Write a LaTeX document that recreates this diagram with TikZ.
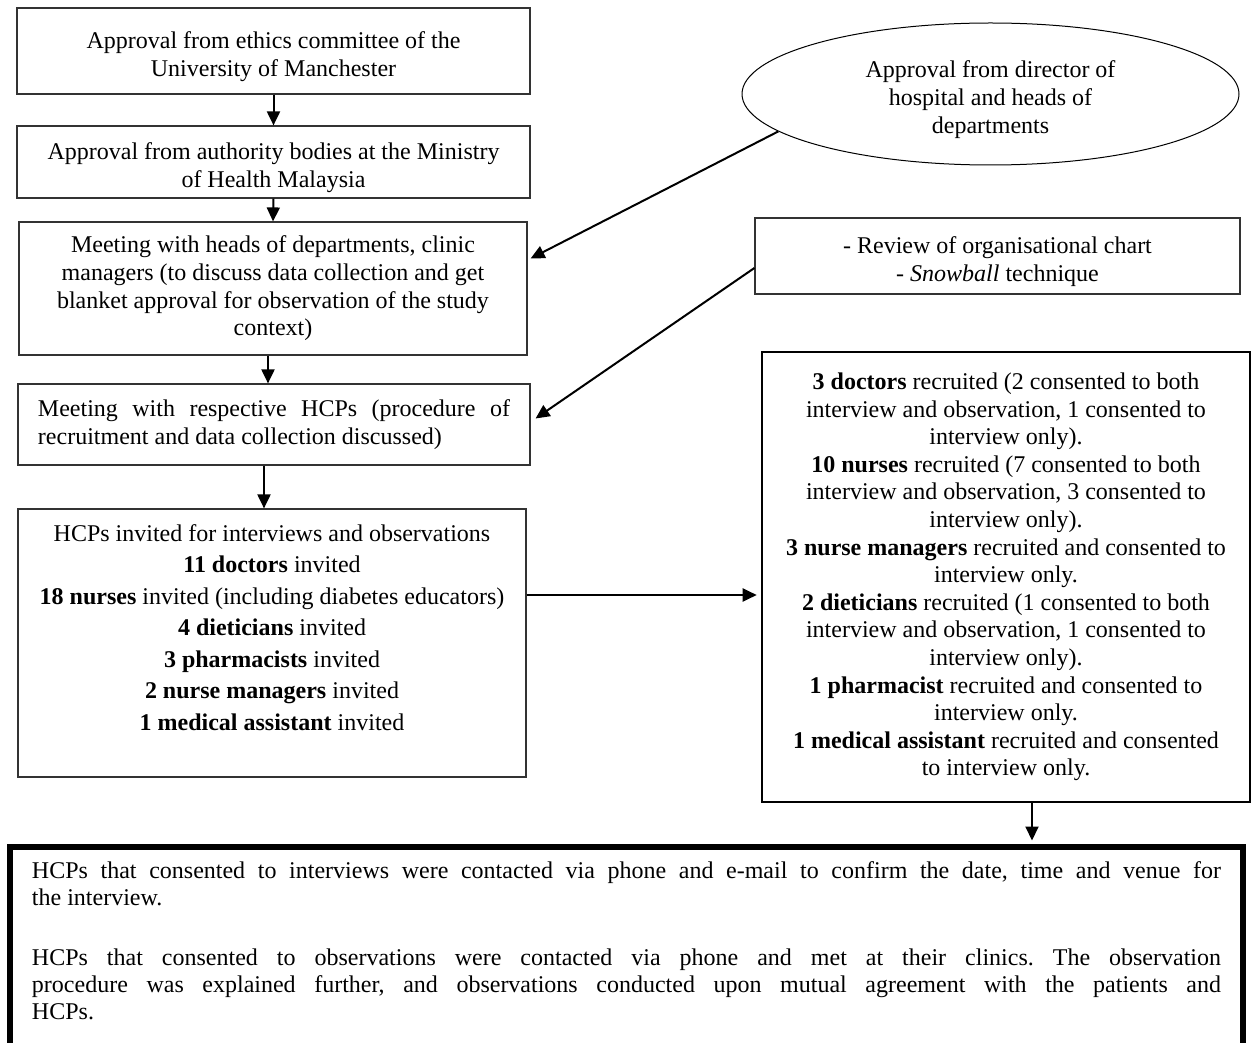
\documentclass[tikz,border=0pt]{standalone}
\usepackage{fontspec}
\setmainfont{Liberation Serif}
\usetikzlibrary{arrows.meta,shapes.geometric,calc}
\frenchspacing
% taller first line, so two-line labels sit a little lower in their boxes
\newcommand\firststrut{\rule{0pt}{14pt}}
\begin{document}
\begin{tikzpicture}[x=0.5pt,y=-0.5pt,
  txt/.style={font=\fontsize{12pt}{13.8pt}\selectfont},
  stage/.style={txt, draw=black!80, line width=0.6pt, align=center, inner sep=0pt},
  result/.style={txt, draw=black, line width=1.3pt, align=center, inner sep=0pt},
  source/.style={txt, draw=black, line width=0.5pt, ellipse, align=center, inner sep=0pt},
  summary/.style={font=\fontsize{12pt}{13.5pt}\selectfont, draw=black, line width=3pt,
    anchor=north west, text width=594.5pt, align=justify, inner xsep=11pt, inner ysep=7.5pt},
  arr/.style={line width=1pt, -{Triangle[length=7pt,width=6.5pt]}}
]
\useasboundingbox (0,0) rectangle (1254,1043);

% left column of stages
\node[stage, minimum width=256.5pt, minimum height=43pt] (b1) at (273.5,51)
  {\firststrut Approval from ethics committee of the\\ University of Manchester};
\node[stage, minimum width=256.5pt, minimum height=36pt] (b2) at (273.5,162)
  {\firststrut Approval from authority bodies at the Ministry\\ of Health Malaysia};
\node[stage, minimum width=254pt, minimum height=66.5pt] (b3) at (273,288.5)
  {Meeting with heads of departments, clinic\\ managers (to discuss data collection and get\\
   blanket approval for observation of the study\\ context)};
\node[stage, align=left, minimum width=256pt, minimum height=40.5pt] (b4) at (274,424.5)
  {\makebox[236pt][s]{Meeting with respective HCPs (procedure of}\\
   recruitment and data collection discussed)};
\node[stage, font=\fontsize{12pt}{15.75pt}\selectfont, minimum width=254pt, minimum height=134pt] (b5) at (272,643)
  {HCPs invited for interviews and observations\\
   \textbf{11 doctors} invited\\
   \textbf{18 nurses} invited (including diabetes educators)\\
   \textbf{4 dieticians} invited\\
   \textbf{3 pharmacists} invited\\
   \textbf{2 nurse managers} invited\\
   \textbf{1 medical assistant} invited\\ \mbox{}};

% right column
\node[source, minimum width=248.5pt, minimum height=71pt] (ell) at (990.5,94)
  {\firststrut Approval from director of\\ hospital and heads of\\ departments};
\node[stage, minimum width=242.5pt, minimum height=38pt] (rev) at (997.5,256)
  {\firststrut - Review of organisational chart\\ - \textit{Snowball} technique};
\node[result, minimum width=244pt, minimum height=225pt] (b6) at (1006,577)
  {\textbf{3 doctors} recruited (2 consented to both\\
   interview and observation, 1 consented to\\
   interview only).\\
   \textbf{10 nurses} recruited (7 consented to both\\
   interview and observation, 3 consented to\\
   interview only).\\
   \textbf{3 nurse managers} recruited and consented to\\
   interview only.\\
   \textbf{2 dieticians} recruited (1 consented to both\\
   interview and observation, 1 consented to\\
   interview only).\\
   \textbf{1 pharmacist} recruited and consented to\\
   interview only.\\
   \textbf{1 medical assistant} recruited and consented\\
   to interview only.};

% closing summary box
\node[summary] (bot) at (7,843.5)
  {\makebox[594.5pt][s]{HCPs that consented to interviews were contacted via phone and e-mail to confirm the date, time and venue for}\\
   the interview.\\[16.5pt]
   \makebox[594.5pt][s]{HCPs that consented to observations were contacted via phone and met at their clinics. The observation}\\
   \makebox[594.5pt][s]{procedure was explained further, and observations conducted upon mutual agreement with the patients and}\\
   HCPs.\\ \mbox{}\\ \mbox{}};

% connector columns
\coordinate (c3) at (268,0);
\coordinate (c4) at (264,0);
\coordinate (h5) at (0,595);
\coordinate (c6) at (1032,0);

\draw[arr] (b1.south) -- (b2.north);
\draw[arr] (b2.south) -- (b3.north);
\draw[arr] (b3.south -| c3) -- (b4.north -| c3);
\draw[arr] (b4.south -| c4) -- (b5.north -| c4);
\draw[arr] (b5.east |- h5) -- ([xshift=-2pt]b6.west |- h5);
\draw[arr, shorten >=1.5pt] (b6.south -| c6) -- (bot.north -| c6);
\draw[arr] (ell.190) -- ($(b3.east)+(3,-30)$);
\draw[arr] ($(rev.west)+(0,12)$) -- ($(b4.east)+(5,-6)$);
\end{tikzpicture}
\end{document}
